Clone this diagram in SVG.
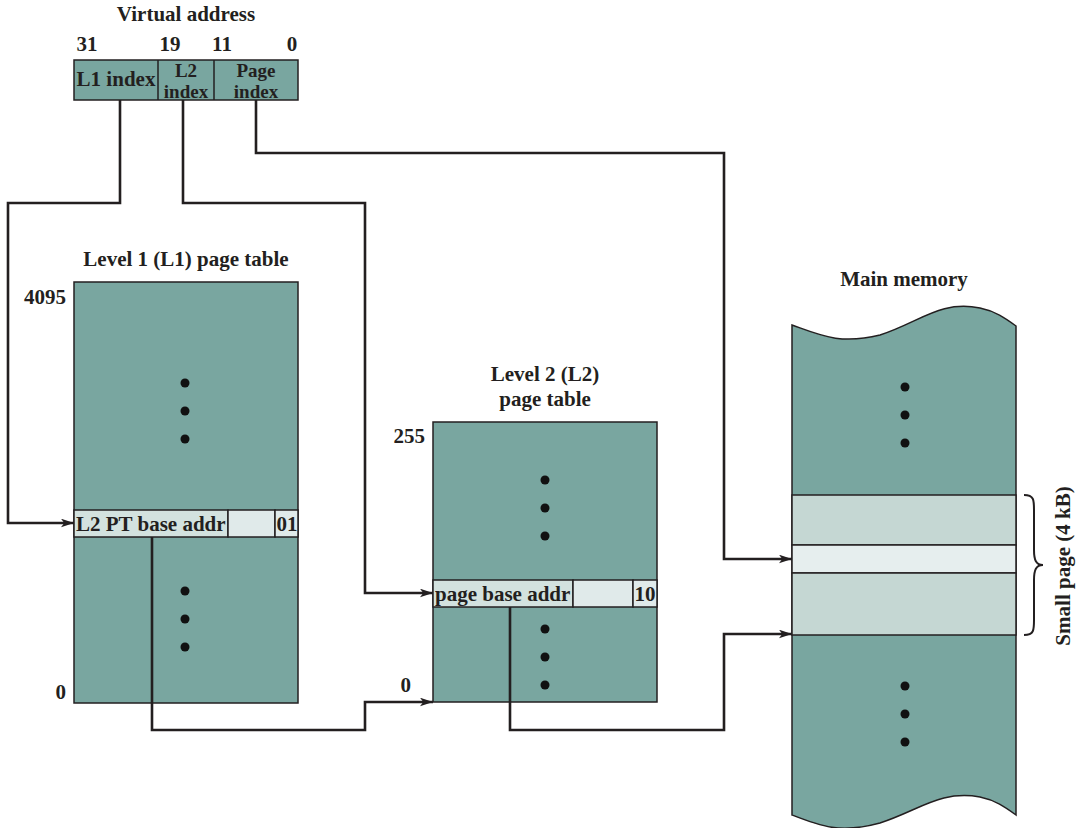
<svg xmlns="http://www.w3.org/2000/svg" width="1080" height="828" viewBox="0 0 1080 828">
<defs>
<style>
text{font-family:"Liberation Serif","Times New Roman",serif;font-weight:bold;font-size:21px;fill:#231f20}
.small{font-size:19px}
.teal{fill:#79a6a0;stroke:#231f20;stroke-width:1.5}
.row{fill:#d3e2df;stroke:#231f20;stroke-width:1.5}
.row2{fill:#e0eaea;stroke:#231f20;stroke-width:1.5}
.band{fill:#c5d7d3;stroke:#231f20;stroke-width:1.5}
.band2{fill:#e6eeee;stroke:#231f20;stroke-width:1.5}
.conn{fill:none;stroke:#231f20;stroke-width:2.6}
.dot{fill:#111}
.mid{text-anchor:middle}
.end{text-anchor:end}
</style>
<marker id="arr" viewBox="0 0 12 8" refX="12" refY="4" markerWidth="13" markerHeight="9" markerUnits="userSpaceOnUse" orient="auto">
<path d="M0,0 L12,4 L0,8 L3,4 Z" fill="#231f20"/>
</marker>
</defs>
<rect width="1080" height="828" fill="#fff"/>

<g id="virtual-address">
<text class="mid" x="186" y="21">Virtual address</text>
<text class="mid" x="87" y="51">31</text>
<text class="mid" x="170" y="51">19</text>
<text class="mid" x="222" y="51">11</text>
<text class="mid" x="292" y="51">0</text>
<rect class="teal" x="74" y="60" width="224" height="40"/>
<line x1="158" y1="60" x2="158" y2="100" stroke="#231f20" stroke-width="1.5"/>
<line x1="214" y1="60" x2="214" y2="100" stroke="#231f20" stroke-width="1.5"/>
<text class="mid" x="116" y="86">L1 index</text>
<text class="mid small" x="186" y="77">L2</text>
<text class="mid small" x="186" y="98">index</text>
<text class="mid small" x="256" y="77">Page</text>
<text class="mid small" x="256" y="98">index</text>
</g>

<g id="l1-table">
<text class="mid" x="186" y="266">Level 1 (L1) page table</text>
<text class="end" x="66" y="304">4095</text>
<text class="end" x="66" y="699">0</text>
<rect class="teal" x="74" y="282" width="224" height="421"/>
<rect class="row" x="74" y="510" width="154" height="27"/>
<rect class="row2" x="228" y="510" width="47" height="27"/>
<rect class="row2" x="275" y="510" width="23" height="27"/>
<text x="76" y="531">L2 PT base addr</text>
<text class="mid" x="287" y="531">01</text>
<circle class="dot" cx="185" cy="383" r="4.5"/>
<circle class="dot" cx="185" cy="411" r="4.5"/>
<circle class="dot" cx="185" cy="439" r="4.5"/>
<circle class="dot" cx="185" cy="591" r="4.5"/>
<circle class="dot" cx="185" cy="619" r="4.5"/>
<circle class="dot" cx="185" cy="647" r="4.5"/>
</g>

<g id="l2-table">
<text class="mid" x="545" y="381">Level 2 (L2)</text>
<text class="mid" x="545" y="406">page table</text>
<text class="end" x="425" y="443">255</text>
<text class="end" x="411" y="692">0</text>
<rect class="teal" x="433" y="422" width="224" height="280"/>
<rect class="row" x="433" y="580" width="140" height="27"/>
<rect class="row2" x="573" y="580" width="60" height="27"/>
<rect class="row2" x="633" y="580" width="24" height="27"/>
<text x="435" y="601">page base addr</text>
<text class="mid" x="645" y="601">10</text>
<circle class="dot" cx="545" cy="480" r="4.5"/>
<circle class="dot" cx="545" cy="508" r="4.5"/>
<circle class="dot" cx="545" cy="536" r="4.5"/>
<circle class="dot" cx="545" cy="629" r="4.5"/>
<circle class="dot" cx="545" cy="657" r="4.5"/>
<circle class="dot" cx="545" cy="685" r="4.5"/>
</g>

<g id="main-memory">
<text class="mid" x="904" y="286">Main memory</text>
<path class="teal" d="M792,325 C820,335 840,345 880,335 C920,322 940,300 980,308 C995,311 1005,318 1016,326 L1016,815 C1005,807 995,800 980,797 C940,790 920,810 880,823 C840,834 820,826 792,815 Z"/>
<rect class="band" x="792" y="495" width="224" height="50"/>
<rect class="band2" x="792" y="545" width="224" height="28"/>
<rect class="band" x="792" y="573" width="224" height="62"/>
<circle class="dot" cx="905" cy="387" r="4.5"/>
<circle class="dot" cx="905" cy="415" r="4.5"/>
<circle class="dot" cx="905" cy="443" r="4.5"/>
<circle class="dot" cx="905" cy="686" r="4.5"/>
<circle class="dot" cx="905" cy="714" r="4.5"/>
<circle class="dot" cx="905" cy="742" r="4.5"/>
<path d="M1024,495 C1034,495 1034,500 1034,510 L1034,550 C1034,560 1036,565 1043,565 C1036,565 1034,570 1034,580 L1034,620 C1034,630 1034,635 1024,635" fill="none" stroke="#231f20" stroke-width="2"/>
<text class="mid" transform="translate(1070,566) rotate(-90)">Small page (4 kB)</text>
</g>

<g id="connectors">
<path class="conn" d="M120,100 V203 H8 V523 H74" marker-end="url(#arr)"/>
<path class="conn" d="M183,100 V203 H365 V593 H433" marker-end="url(#arr)"/>
<path class="conn" d="M256,100 V153 H724 V559 H792" marker-end="url(#arr)"/>
<path class="conn" d="M152,537 V730 H365 V702 H433" marker-end="url(#arr)"/>
<path class="conn" d="M510,607 V730 H724 V634 H792" marker-end="url(#arr)"/>
</g>
</svg>
